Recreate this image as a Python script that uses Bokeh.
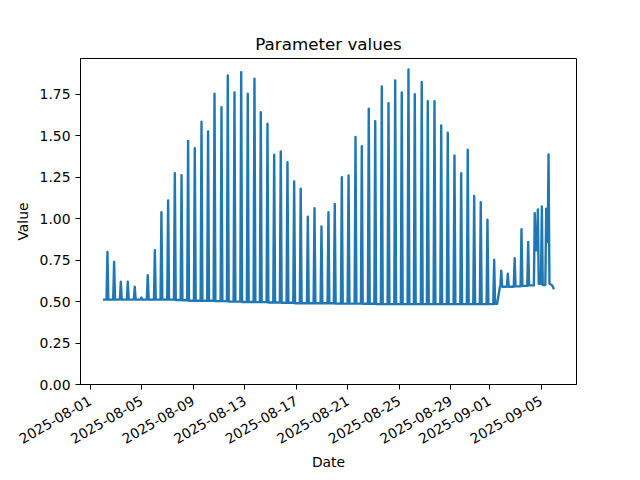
import math
import pandas as pd
from bokeh.plotting import figure
from bokeh.models import Range1d, FixedTicker, DatetimeTickFormatter, NumeralTickFormatter, ColumnDataSource
from bokeh.embed import file_html
from bokeh.resources import INLINE

# ---- data (semi-diurnal spikes over a baseline) ----
peak_times = [
    "2025-08-02 08:10", "2025-08-02 20:38", "2025-08-03 09:07", "2025-08-03 22:05",
    "2025-08-04 11:02", "2025-08-04 23:31", "2025-08-05 11:17", "2025-08-06 00:29",
    "2025-08-06 12:43", "2025-08-07 01:12", "2025-08-07 13:41", "2025-08-08 02:10",
    "2025-08-08 14:24", "2025-08-09 02:53", "2025-08-09 15:22", "2025-08-10 03:36",
    "2025-08-10 15:36", "2025-08-11 04:34", "2025-08-11 16:19", "2025-08-12 04:48",
    "2025-08-12 17:17", "2025-08-13 05:31", "2025-08-13 18:00", "2025-08-14 05:46",
    "2025-08-14 18:14", "2025-08-15 06:43", "2025-08-15 18:58", "2025-08-16 07:26",
    "2025-08-16 19:55", "2025-08-17 08:10", "2025-08-17 21:22", "2025-08-18 09:50",
    "2025-08-18 22:48", "2025-08-19 11:46", "2025-08-19 23:31", "2025-08-20 12:43",
    "2025-08-21 01:12", "2025-08-21 14:10", "2025-08-22 01:55", "2025-08-22 14:53",
    "2025-08-23 02:53", "2025-08-23 15:07", "2025-08-24 03:36", "2025-08-24 16:05",
    "2025-08-25 04:19", "2025-08-25 16:48", "2025-08-26 04:34", "2025-08-26 17:31",
    "2025-08-27 04:48", "2025-08-27 17:17", "2025-08-28 05:46", "2025-08-28 18:00",
    "2025-08-29 06:29", "2025-08-29 18:58", "2025-08-30 07:12", "2025-08-30 19:12",
    "2025-08-31 07:26", "2025-08-31 19:55", "2025-09-01 08:24",
    "2025-09-01 21:36", "2025-09-02 09:50", "2025-09-02 22:34", "2025-09-03 11:17",
    "2025-09-03 23:46", "2025-09-04 12:00", "2025-09-04 17:46", "2025-09-05 01:12",
    "2025-09-05 09:22", "2025-09-05 13:41",
]
peak_values = [
    0.80, 0.74, 0.62, 0.62, 0.59, 0.525, 0.66, 0.81,
    1.04, 1.11, 1.275, 1.263, 1.47, 1.426, 1.585, 1.527,
    1.754, 1.673, 1.865, 1.762, 1.885, 1.754, 1.845, 1.643,
    1.573, 1.386, 1.406, 1.342, 1.225, 1.181, 1.012, 1.064,
    0.954, 1.040, 1.090, 1.251, 1.261, 1.493, 1.438, 1.664,
    1.589, 1.798, 1.698, 1.835, 1.762, 1.901, 1.752, 1.825,
    1.710, 1.710, 1.563, 1.519, 1.382, 1.275, 1.416, 1.137,
    1.100, 0.994, 0.753,
    0.686, 0.668, 0.762, 0.937, 0.860, 1.034, 1.056, 1.074,
    1.060, 1.388,
]
# level the series settles to after each spike
trough_values = [
    0.512, 0.512, 0.512, 0.512, 0.512, 0.512, 0.512, 0.512,
    0.512, 0.512, 0.510, 0.508, 0.505, 0.505, 0.505, 0.505,
    0.503, 0.503, 0.500, 0.500, 0.498, 0.498, 0.497, 0.497,
    0.495, 0.495, 0.493, 0.493, 0.490, 0.490, 0.490, 0.490,
    0.490, 0.490, 0.488, 0.488, 0.488, 0.488, 0.487, 0.487,
    0.485, 0.485, 0.485, 0.485, 0.485, 0.485, 0.485, 0.485,
    0.485, 0.485, 0.485, 0.485, 0.485, 0.485, 0.485, 0.485,
    0.485, 0.485, 0.487,
    0.590, 0.590, 0.592, 0.595, 0.598, 0.810, 0.608, 0.600,
    0.860, 0.610,
]
# extra knots: start, step-up on 1 Sep, end of record
knot_times = ["2025-08-02 00:00", "2025-09-01 13:55", "2025-09-01 19:10",
              "2025-09-05 20:30", "2025-09-05 23:45"]
knot_values = [0.512, 0.487, 0.590, 0.598, 0.575]

# ---- build the line ----
half = pd.Timedelta(minutes=100)
events = [(pd.Timestamp(t), "peak", v, b) for t, v, b in zip(peak_times, peak_values, trough_values)]
events += [(pd.Timestamp(t), "knot", v, v) for t, v in zip(knot_times, knot_values)]
events.sort(key=lambda e: e[0])

xs, ys = [], []
level = knot_values[0]
for t, kind, v, b in events:
    if kind == "knot":
        xs.append(t); ys.append(v)
    else:
        xs += [t - half, t, t + half]
        ys += [level, v, b]
    level = b

src = ColumnDataSource(dict(x=xs, y=ys))

tmin, tmax = min(xs), max(xs)
pad = (tmax - tmin) * 0.05

FONT = "DejaVu Sans"
p = figure(frame_width=496, frame_height=326, x_axis_type="datetime",
           output_backend="svg", toolbar_location=None,
           min_border_left=80, min_border_right=64, min_border_top=58, min_border_bottom=96,
           x_range=Range1d(tmin - pad, tmax + pad), y_range=Range1d(0, 1.967),
           background_fill_color="white", border_fill_color="white")

p.line("x", "y", source=src, line_color="#1f77b4", line_width=2.4, line_join="round")

tick_dates = ["2025-08-01", "2025-08-05", "2025-08-09", "2025-08-13", "2025-08-17",
              "2025-08-21", "2025-08-25", "2025-08-29", "2025-09-01", "2025-09-05"]
y_ticks = [0.0, 0.25, 0.5, 0.75, 1.0, 1.25, 1.5, 1.75]

p.xaxis.ticker = FixedTicker(ticks=[pd.Timestamp(d).value / 1e6 for d in tick_dates])
fmt = "%Y-%m-%d"
p.xaxis.formatter = DatetimeTickFormatter(microseconds=fmt, milliseconds=fmt, seconds=fmt,
                                          minsec=fmt, minutes=fmt, hourmin=fmt, hours=fmt,
                                          days=fmt, months=fmt, years=fmt)
p.xaxis.major_label_orientation = math.pi / 6
p.yaxis.ticker = FixedTicker(ticks=y_ticks)
p.yaxis.formatter = NumeralTickFormatter(format="0.00")

p.title.text = "Parameter values"
p.title.align = "center"
p.title.text_font = FONT
p.title.text_font_size = "16.7px"
p.title.text_font_style = "normal"
p.title.text_color = "black"

p.xaxis.axis_label = "Date"
p.yaxis.axis_label = "Value"
for ax in (p.xaxis, p.yaxis):
    ax.axis_label_text_font = FONT
    ax.axis_label_text_font_size = "13.9px"
    ax.axis_label_text_font_style = "normal"
    ax.axis_label_text_color = "black"
    ax.major_label_text_font = FONT
    ax.major_label_text_font_size = "13.9px"
    ax.major_label_text_color = "black"
    ax.axis_line_color = "black"
    ax.major_tick_line_color = "black"
    ax.major_tick_out = 5
    ax.major_tick_in = 0
    ax.minor_tick_line_color = None
p.xaxis.major_label_standoff = 10
p.xaxis.axis_label_standoff = 2
p.yaxis.axis_label_standoff = 6

p.xgrid.visible = False
p.ygrid.visible = False
p.outline_line_color = "black"
p.outline_line_alpha = 1.0
p.outline_line_width = 1

open("out.html", "w").write(file_html(p, INLINE))
